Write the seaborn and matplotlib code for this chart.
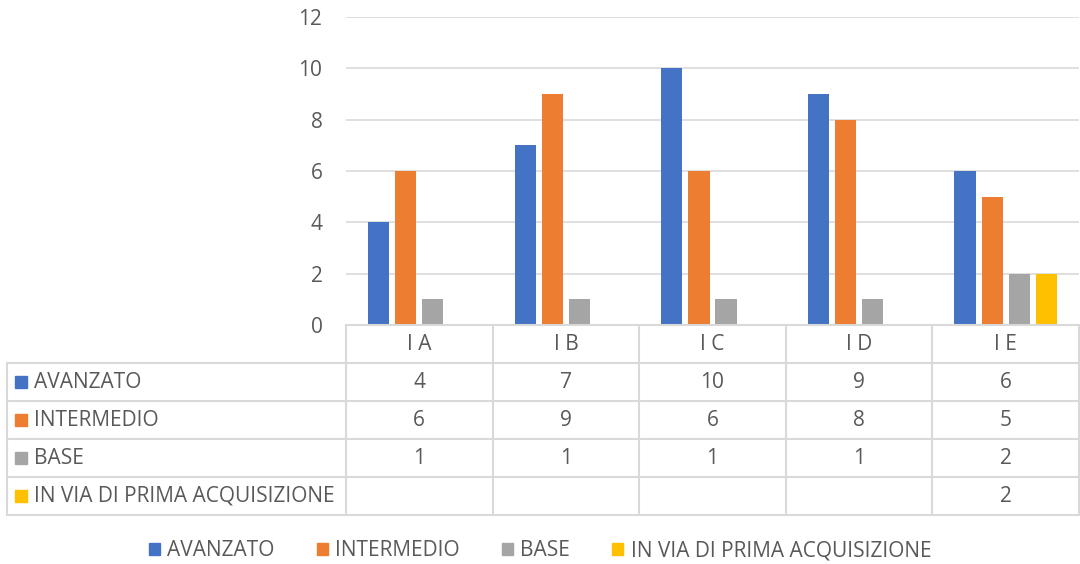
import numpy as np
import pandas as pd
import seaborn as sns
import matplotlib.pyplot as plt
from matplotlib.patches import Rectangle, Patch

# Dati del grafico
classi = ['I A', 'I B', 'I C', 'I D', 'I E']
livelli = ['AVANZATO', 'INTERMEDIO', 'BASE', 'IN VIA DI PRIMA ACQUISIZIONE']
avanzato = [4, 7, 10, 9, 6]
intermedio = [6, 9, 6, 8, 5]
base = [1, 1, 1, 1, 2]
prima_acquisizione = [np.nan, np.nan, np.nan, np.nan, 2]
colori = ['#4472C4', '#ED7D31', '#A5A5A5', '#FFC000']

serie = [avanzato, intermedio, base, prima_acquisizione]
df = pd.DataFrame({
    'classe': np.tile(classi, len(livelli)),
    'livello': np.repeat(livelli, len(classi)),
    'valore': np.concatenate(serie),
})

sns.set_theme(style='white')
plt.rcParams['font.family'] = ['Open Sans', 'DejaVu Sans']
testo = '#595959'
griglia = '#D9D9D9'
fs = 15

W, H = 1080, 564
fig = plt.figure(figsize=(W / 100, H / 100), dpi=100)
ax = fig.add_axes([346 / W, 1 - 325 / H, 733 / W, 308 / H])
tab = fig.add_axes([7 / W, 1 - 515 / H, 1072 / W, 190 / H])

# Barre
sns.barplot(data=df.dropna(), x='classe', y='valore', hue='livello',
            order=classi, hue_order=livelli, palette=colori, saturation=1,
            width=0.74, gap=0.22, linewidth=0, legend=False, ax=ax)
ax.set_xlim(-0.5, len(classi) - 0.5)
ax.set_ylim(0, 12)
ax.set_yticks(range(0, 13, 2))
ax.set_xticks([])
ax.set_xlabel('')
ax.set_ylabel('')
ax.grid(axis='y', color=griglia, linewidth=1.2)
ax.set_axisbelow(True)
for s in ax.spines.values():
    s.set_visible(False)
ax.tick_params(axis='y', length=0, pad=17, labelsize=fs, labelcolor=testo)

# Tabella dati
px_unit = 733 / len(classi)
xmin = -0.5 - 339 / px_unit
xmax = len(classi) - 0.5
nrow = len(livelli) + 1
tab.set_xlim(xmin, xmax)
tab.set_ylim(nrow, 0)
tab.axis('off')
lw = 1.5
tab.plot([-0.5, xmax], [0, 0], color=griglia, lw=lw, clip_on=False)
for r in range(1, nrow + 1):
    tab.plot([xmin, xmax], [r, r], color=griglia, lw=lw, clip_on=False)
for i in range(len(classi) + 1):
    tab.plot([-0.5 + i, -0.5 + i], [0, nrow], color=griglia, lw=lw, clip_on=False)
tab.plot([xmin, xmin], [1, nrow], color=griglia, lw=lw, clip_on=False)

for i, c in enumerate(classi):
    tab.text(i, 0.5, c, ha='center', va='center', fontsize=fs, color=testo)
for r, (nome, valori, col) in enumerate(zip(livelli, serie, colori), start=1):
    tab.add_patch(Rectangle((xmin + 8 / px_unit, r + 0.5 - 0.16), 12 / px_unit, 0.32,
                            color=col, clip_on=False))
    tab.text(xmin + 27 / px_unit, r + 0.5, nome, ha='left', va='center',
             fontsize=fs, color=testo)
    for i, v in enumerate(valori):
        if not np.isnan(v):
            tab.text(i, r + 0.5, f'{v:g}', ha='center', va='center',
                     fontsize=fs, color=testo)

# Legenda
handles = [Patch(color=c) for c in colori]
fig.legend(handles, livelli, loc='center', bbox_to_anchor=(0.5, 1 - 551 / H),
           ncol=4, frameon=False, fontsize=fs, labelcolor=testo,
           handlelength=0.55, handleheight=0.55, handletextpad=0.35,
           columnspacing=2.0)

fig.savefig('out.png', dpi=100)
